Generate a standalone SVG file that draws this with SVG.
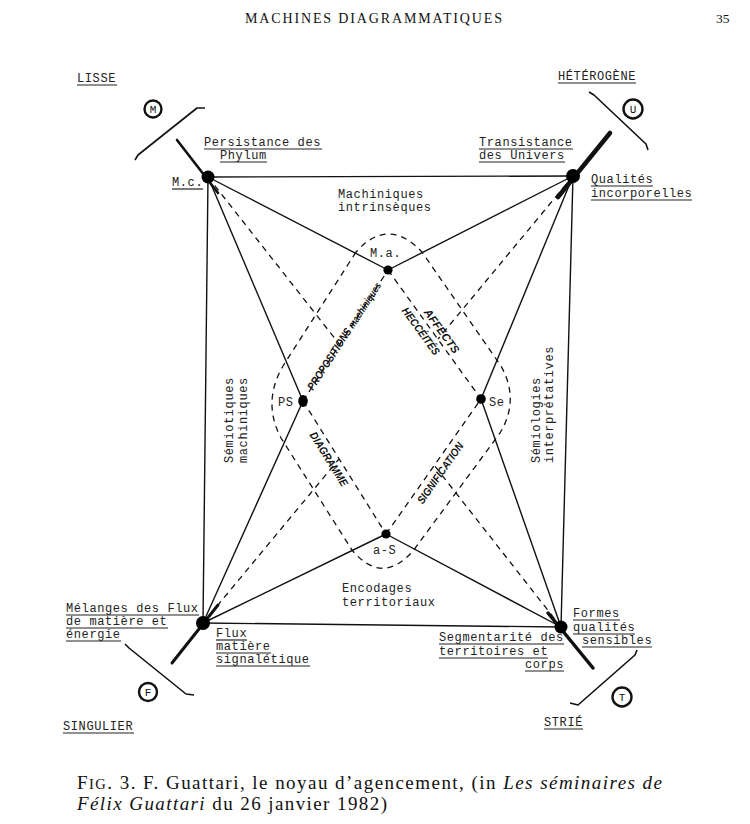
<svg xmlns="http://www.w3.org/2000/svg" width="750" height="824" viewBox="0 0 750 824">
<style>
.tw{font-family:"Liberation Mono","DejaVu Sans Mono",monospace;font-size:12px;letter-spacing:0.6px;fill:#222}
.cl{font-family:"Liberation Mono","DejaVu Sans Mono",monospace;font-size:11px;fill:#111;text-anchor:middle}
.ul{stroke:#222;stroke-width:1.2}
.solid{stroke:#111;stroke-width:1.4;fill:none}
.dash{stroke:#111;stroke-width:1.3;stroke-dasharray:6 5;fill:none}
.thick{stroke:#111;stroke-linecap:round;fill:none}
.brk{stroke:#111;stroke-width:1.6;fill:none;stroke-linejoin:round}
.ring{fill:none;stroke:#111;stroke-width:2.4}
.dot{fill:#000}
.hand{font-family:"Liberation Sans","DejaVu Sans",sans-serif;font-weight:bold;font-style:italic;font-size:11px;fill:#111;text-anchor:middle}
.serif{font-family:"Liberation Serif","DejaVu Serif",serif;fill:#111}
</style>
<rect width="750" height="824" fill="#fff"/>

<!-- header -->
<text class="serif" x="245" y="23" font-size="14" textLength="257" lengthAdjust="spacing">MACHINES DIAGRAMMATIQUES</text>
<text class="serif" x="716" y="23" font-size="13.5">35</text>

<!-- connectors -->
<g id="connectors">
  <line class="solid" x1="208" y1="177" x2="573" y2="176"/>
  <line class="solid" x1="208" y1="177" x2="203" y2="623"/>
  <line class="solid" x1="573" y1="176" x2="561" y2="627"/>
  <line class="solid" x1="203" y1="623" x2="561" y2="627"/>
  <line class="solid" x1="208" y1="177" x2="388" y2="270"/>
  <line class="solid" x1="388" y1="270" x2="573" y2="176"/>
  <line class="solid" x1="203" y1="623" x2="386" y2="534"/>
  <line class="solid" x1="386" y1="534" x2="561" y2="627"/>
  <line class="solid" x1="208" y1="177" x2="303" y2="401"/>
  <line class="solid" x1="303" y1="401" x2="203" y2="623"/>
  <line class="solid" x1="573" y1="176" x2="481" y2="399"/>
  <line class="solid" x1="481" y1="399" x2="561" y2="627"/>
  <line class="dash" x1="303" y1="401" x2="388" y2="270"/>
  <line class="dash" x1="388" y1="270" x2="481" y2="399"/>
  <line class="dash" x1="303" y1="401" x2="386" y2="534"/>
  <line class="dash" x1="386" y1="534" x2="481" y2="399"/>
  <line class="dash" x1="208" y1="177" x2="340" y2="345"/>
  <line class="dash" x1="573" y1="176" x2="438" y2="339"/>
  <line class="dash" x1="203" y1="623" x2="339" y2="459"/>
  <line class="dash" x1="561" y1="627" x2="434" y2="465"/>
  <path class="dash" d="M356,252 L283,366 Q262,402 281,438 L352,550 Q382,586 413,551 L500,433 Q520,400 501,366 L422,252 Q388,216 356,252 Z"/>
  <line class="thick" stroke-width="2.6" x1="177" y1="140" x2="218" y2="193"/>
  <line class="thick" stroke-width="4.5" x1="610" y1="133" x2="558" y2="197"/>
  <line class="thick" stroke-width="3" x1="172" y1="663" x2="218" y2="605"/>
  <line class="thick" stroke-width="3.5" x1="548" y1="613" x2="593" y2="668"/>
  <path class="brk" d="M135,160 L138,155 L197,108 L205,108"/>
  <path class="brk" d="M589,92 L594,95 L646,144 L648,150"/>
  <path class="brk" d="M125,644 L129,648 L186,694 L194,695"/>
  <path class="brk" d="M637,650 L635,655 L578,705 L570,703"/>
</g>

<!-- corner markers -->
<g id="mark-M"><circle class="ring" cx="153" cy="109" r="8.5"/><text class="cl" x="153" y="113">M</text></g>
<g id="mark-U"><circle class="ring" cx="633" cy="109" r="9.5"/><text class="cl" x="633" y="113">U</text></g>
<g id="mark-F"><circle class="ring" cx="148" cy="692" r="9"/><text class="cl" x="148" y="696">F</text></g>
<g id="mark-T"><circle class="ring" cx="622" cy="697" r="9.5"/><text class="cl" x="622" y="701">T</text></g>

<!-- nodes -->
<g id="node-Mc">
  <circle class="dot" cx="208" cy="177" r="6.5"/>
  <text class="tw" x="172" y="186">M.c.</text>
  <line class="ul" x1="172" y1="189" x2="203" y2="189"/>
  <text class="tw" x="204" y="146">Persistance des</text>
  <line class="ul" x1="204" y1="149" x2="322" y2="149"/>
  <text class="tw" x="220" y="159">Phylum</text>
  <line class="ul" x1="220" y1="162" x2="267" y2="162"/>
</g>
<g id="node-TR">
  <circle class="dot" cx="573" cy="176" r="7"/>
  <text class="tw" x="479" y="146">Transistance</text>
  <line class="ul" x1="479" y1="149" x2="573" y2="149"/>
  <text class="tw" x="479" y="159">des Univers</text>
  <line class="ul" x1="479" y1="162" x2="565" y2="162"/>
  <text class="tw" x="591" y="183">Qualités</text>
  <line class="ul" x1="591" y1="186" x2="653" y2="186"/>
  <text class="tw" x="591" y="197">incorporelles</text>
  <line class="ul" x1="591" y1="200" x2="692" y2="200"/>
</g>
<g id="node-BL">
  <circle class="dot" cx="203" cy="623" r="7"/>
  <text class="tw" x="66" y="612">Mélanges des Flux</text>
  <line class="ul" x1="66" y1="615" x2="199" y2="615"/>
  <text class="tw" x="66" y="625">de matière et</text>
  <line class="ul" x1="66" y1="628" x2="168" y2="628"/>
  <text class="tw" x="66" y="638">énergie</text>
  <line class="ul" x1="66" y1="641" x2="121" y2="641"/>
  <text class="tw" x="216" y="637">Flux</text>
  <line class="ul" x1="216" y1="640" x2="247" y2="640"/>
  <text class="tw" x="216" y="650">matière</text>
  <line class="ul" x1="216" y1="653" x2="271" y2="653"/>
  <text class="tw" x="216" y="663">signalétique</text>
  <line class="ul" x1="216" y1="666" x2="310" y2="666"/>
</g>
<g id="node-BR">
  <circle class="dot" cx="561" cy="627" r="6.5"/>
  <text class="tw" x="573" y="617">Formes</text>
  <line class="ul" x1="573" y1="620" x2="620" y2="620"/>
  <text class="tw" x="573" y="631">qualités</text>
  <line class="ul" x1="573" y1="634" x2="635" y2="634"/>
  <text class="tw" x="582" y="644">sensibles</text>
  <line class="ul" x1="582" y1="647" x2="652" y2="647"/>
  <text class="tw" x="439" y="641">Segmentarité des</text>
  <line class="ul" x1="439" y1="644" x2="564" y2="644"/>
  <text class="tw" x="439" y="655">territoires et</text>
  <line class="ul" x1="439" y1="658" x2="548" y2="658"/>
  <text class="tw" x="525" y="668">corps</text>
  <line class="ul" x1="525" y1="671" x2="564" y2="671"/>
</g>
<g id="node-Ma">
  <circle class="dot" cx="388" cy="270" r="4.6"/>
  <text class="tw" x="370" y="257">M.a.</text>
</g>
<g id="node-PS">
  <ellipse class="dot" cx="303" cy="401" rx="4.8" ry="6"/>
  <text class="tw" x="278" y="406">PS</text>
</g>
<g id="node-Se">
  <circle class="dot" cx="481" cy="399" r="4.8"/>
  <text class="tw" x="489" y="406">Se</text>
</g>
<g id="node-aS">
  <circle class="dot" cx="386" cy="534" r="4.6"/>
  <text class="tw" x="373" y="554">a-S</text>
</g>

<!-- region labels -->
<g id="regions">
  <text class="tw" x="338" y="198">Machiniques</text>
  <text class="tw" x="338" y="211">intrinsèques</text>
  <text class="tw" x="342" y="592">Encodages</text>
  <text class="tw" x="342" y="606">territoriaux</text>
  <text class="tw" transform="translate(233,463) rotate(-90)">Sémiotiques</text>
  <text class="tw" transform="translate(247,463) rotate(-90)">machiniques</text>
  <text class="tw" transform="translate(540,463) rotate(-90)">Sémiologies</text>
  <text class="tw" transform="translate(553,463) rotate(-90)">interprétatives</text>
</g>

<!-- handwritten edge labels -->
<g id="edge-labels">
  <text class="hand" transform="translate(344,336) rotate(-57)" y="4" textLength="126" lengthAdjust="spacingAndGlyphs">PROPOSITIONS <tspan font-size="10">machiniques</tspan></text>
  <text class="hand" transform="translate(442,331) rotate(54)" y="4" font-size="12" textLength="52" lengthAdjust="spacingAndGlyphs">AFFECTS</text>
  <text class="hand" transform="translate(421,331) rotate(54)" y="4" font-size="10" textLength="56" lengthAdjust="spacingAndGlyphs">HECCÉITÉS</text>
  <text class="hand" transform="translate(329,459) rotate(58)" y="4" textLength="62" lengthAdjust="spacingAndGlyphs">DIAGRAMME</text>
  <text class="hand" transform="translate(440,473) rotate(-55)" y="4" textLength="72" lengthAdjust="spacingAndGlyphs">SIGNIFICATION</text>
</g>

<!-- quadrant labels -->
<g id="quadrants">
  <text class="tw" x="77" y="82">LISSE</text>
  <line class="ul" x1="77" y1="85" x2="117" y2="85"/>
  <text class="tw" x="558" y="80">HÉTÉROGÈNE</text>
  <line class="ul" x1="558" y1="83" x2="636" y2="83"/>
  <text class="tw" x="63" y="730">SINGULIER</text>
  <line class="ul" x1="63" y1="733" x2="134" y2="733"/>
  <text class="tw" x="544" y="726">STRIÉ</text>
  <line class="ul" x1="544" y1="729" x2="583" y2="729"/>
</g>

<!-- caption -->
<text class="serif" x="77" y="789" font-size="19" textLength="585" lengthAdjust="spacing">F<tspan font-size="14.5">IG</tspan>. 3.  F. Guattari, le noyau d’agencement, (in <tspan font-style="italic">Les séminaires de</tspan></text>
<text class="serif" x="77" y="810" font-size="19" textLength="310" lengthAdjust="spacing"><tspan font-style="italic">Félix Guattari</tspan> du 26 janvier 1982)</text>
</svg>
